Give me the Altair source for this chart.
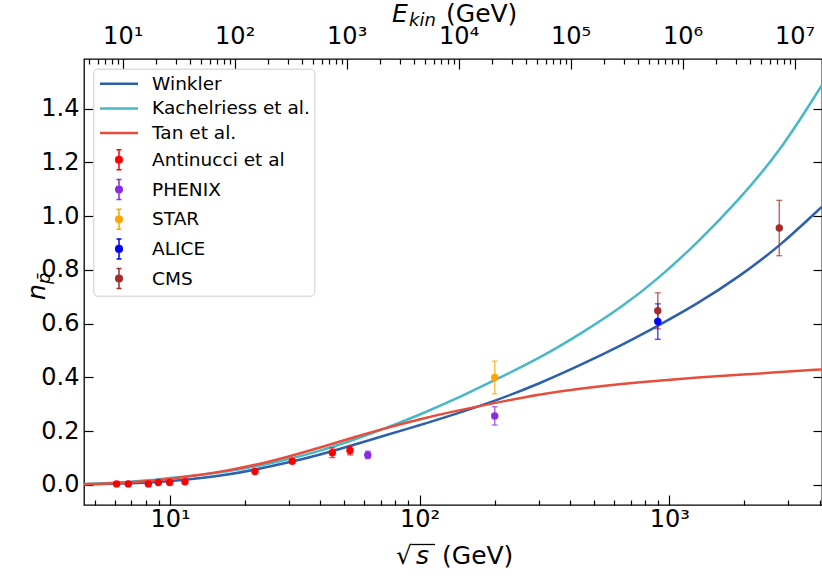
import altair as alt
import pandas as pd

# ---------------- data ----------------
series_names = ["Winkler", "Kachelriess et al.", "Tan et al.",
                "Antinucci et al", "PHENIX", "STAR", "ALICE", "CMS"]
series_colors = ["#2d5fac", "#47b8c8", "#e84c3a",
                 "#ff0000", "#8a2be2", "#ffa500", "#0000ff", "#a52a2a"]

curve_sqrts = [4.52, 6, 8, 10, 13, 17, 22, 30, 40, 53, 70, 100, 140, 200,
               300, 450, 650, 900, 1300, 1900, 2800, 4095]
winkler_n = [0.002, 0.004, 0.008, 0.014, 0.024, 0.038, 0.057, 0.084, 0.113,
             0.146, 0.180, 0.222, 0.265, 0.312, 0.376, 0.450, 0.522, 0.592,
             0.675, 0.774, 0.892, 1.036]
kach_n = [0.004, 0.008, 0.016, 0.026, 0.036, 0.050, 0.068, 0.096, 0.127,
          0.164, 0.204, 0.261, 0.320, 0.390, 0.470, 0.567, 0.664, 0.766,
          0.902, 1.060, 1.245, 1.489]
tan_n = [0.003, 0.006, 0.013, 0.023, 0.036, 0.054, 0.074, 0.106, 0.139,
         0.174, 0.207, 0.245, 0.276, 0.305, 0.337, 0.360, 0.376, 0.388,
         0.400, 0.410, 0.420, 0.430]

antinucci_sqrts = [6.11, 6.81, 8.19, 8.98, 9.97, 11.48, 21.9, 30.9, 44.7, 52.6]
antinucci_n = [0.004, 0.004, 0.004, 0.009, 0.009, 0.012, 0.050, 0.088, 0.120, 0.128]
antinucci_err = [0.001, 0.001, 0.001, 0.002, 0.002, 0.003, 0.004, 0.006, 0.018, 0.016]

phenix_sqrts = [62.0, 200.0]
phenix_n = [0.112, 0.257]
phenix_err = [0.014, 0.034]

star_sqrts = [200.0]
star_n = [0.400]
star_err = [0.061]

alice_sqrts = [900.0]
alice_n = [0.608]
alice_err = [0.066]

cms_sqrts = [900.0, 2760.0]
cms_n = [0.648, 0.956]
cms_err = [0.067, 0.103]

y_ticks = [0.0, 0.2, 0.4, 0.6, 0.8, 1.0, 1.2, 1.4]
x_decades = [10, 100, 1000]
top_decades = [10, 100, 1000, 1e4, 1e5, 1e6, 1e7]

# ---------------- tables ----------------
curves = pd.concat([
    pd.DataFrame({"series": "Winkler", "sqrts": curve_sqrts, "n": winkler_n}),
    pd.DataFrame({"series": "Kachelriess et al.", "sqrts": curve_sqrts, "n": kach_n}),
    pd.DataFrame({"series": "Tan et al.", "sqrts": curve_sqrts, "n": tan_n}),
], ignore_index=True)


def pts(name, xs, ys, es):
    return pd.DataFrame({"series": name, "sqrts": xs, "n": ys,
                         "lo": [y - e for y, e in zip(ys, es)],
                         "hi": [y + e for y, e in zip(ys, es)]})


points = pd.concat([
    pts("Antinucci et al", antinucci_sqrts, antinucci_n, antinucci_err),
    pts("PHENIX", phenix_sqrts, phenix_n, phenix_err),
    pts("STAR", star_sqrts, star_n, star_err),
    pts("ALICE", alice_sqrts, alice_n, alice_err),
    pts("CMS", cms_sqrts, cms_n, cms_err),
], ignore_index=True)

legend_df = pd.DataFrame({"series": series_names})
anchor = pd.DataFrame({"v": [10.0], "w": [0.0]})

minor_x = [m * d for d in [1, 10, 100, 1000] for m in range(2, 10)]
minor_x = [v for v in minor_x if 4.5 < v < 4093]
minor_top = [m * d for d in [1, 10, 100, 1000, 1e4, 1e5, 1e6, 1e7] for m in range(2, 10)]
minor_top = [v for v in minor_top if 4.5 < v < 1.75e7]

# ---------------- styling ----------------
FONT = "DejaVu Sans"
W, H = 738, 446
XDOM = [4.524, 4093]
YDOM = [-0.0745, 1.585]
TOPDOM = [4.514, 1.755e7]

sup = ("'10' + ['\u2070','\u00b9','\u00b2','\u00b3','\u2074','\u2075','\u2076','\u2077','\u2078']"
       "[round(log(datum.value)/LN10)]")


def xscale():
    return alt.Scale(type="log", domain=XDOM, nice=False)


def yscale():
    return alt.Scale(domain=YDOM, nice=False, zero=False)


def tscale():
    return alt.Scale(type="log", domain=TOPDOM, nice=False)


cscale = alt.Scale(domain=series_names, range=series_colors)


def circ(r):
    return f"M{r},0A{r},{r},0,1,1,-{r},0A{r},{r},0,1,1,{r},0"


line_path = "M-1.9,-0.05L1.9,-0.05M-1.9,0.05L1.9,0.05"
eb_path = ("M0,-1L0,1M-0.25,-1L0.25,-1M-0.25,1L0.25,1"
           + circ(0.33) + circ(0.21) + circ(0.09))
shape_range = [line_path] * 3 + [eb_path] * 5

legend_def = alt.Legend(
    title=None, orient="none", legendX=9.3, legendY=9.7, direction="vertical",
    padding=4, symbolSize=400, symbolOffset=10.7, labelOffset=22.1,
    labelFont=FONT, labelFontSize=18.5, labelColor="black", labelLimit=400,
    rowPadding=3.7, strokeColor="#cccccc", fillColor="rgba(255,255,255,0.8)",
    cornerRadius=4, symbolOpacity=1, symbolStrokeWidth=1.5,
)

label_common = dict(labelFont=FONT, labelFontSize=24, labelColor="black",
                    grid=False, title=None, domain=False, ticks=False,
                    labelOverlap=False, labelFlush=False)

x_label_axis = alt.Axis(orient="bottom", values=x_decades, labelExpr=sup,
                        labelPadding=2, **label_common)
y_label_axis = alt.Axis(orient="left", values=y_ticks, format=".1f",
                        labelPadding=5, **label_common)
top_label_axis = alt.Axis(orient="top", values=top_decades, labelExpr=sup,
                          labelPadding=11, **label_common)


def tick_axis(orient, values, size):
    return alt.Axis(orient=orient, values=values, offset=-size, tickSize=size,
                    labels=False, domain=False, ticks=True, tickColor="black",
                    tickWidth=1.2, grid=False, title=None)


# ---------------- data layers ----------------
enc_x = alt.X("sqrts:Q", scale=xscale(), axis=x_label_axis)
enc_y = alt.Y("n:Q", scale=yscale(), axis=y_label_axis)
enc_c = alt.Color("series:N", scale=cscale, legend=None)

legend_layer = alt.Chart(legend_df).mark_point(opacity=0, filled=False).encode(
    color=alt.Color("series:N", scale=cscale, legend=legend_def),
    shape=alt.Shape("series:N", scale=alt.Scale(domain=series_names, range=shape_range),
                    legend=legend_def),
)

lines = alt.Chart(curves).mark_line(strokeWidth=2.5, interpolate="basis", clip=True).encode(
    x=enc_x, y=enc_y, color=enc_c)

bars = alt.Chart(points).mark_rule(strokeWidth=1.5, opacity=0.7).encode(
    x="sqrts:Q", y="lo:Q", y2="hi:Q", color=enc_c)
caps_lo = alt.Chart(points).mark_tick(orient="horizontal", size=6, thickness=1.3, opacity=0.7).encode(
    x="sqrts:Q", y="lo:Q", color=enc_c)
caps_hi = alt.Chart(points).mark_tick(orient="horizontal", size=6, thickness=1.3, opacity=0.7).encode(
    x="sqrts:Q", y="hi:Q", color=enc_c)
dots = alt.Chart(points).mark_circle(size=55, opacity=1).encode(
    x="sqrts:Q", y="n:Q", color=enc_c)

data_layer = alt.layer(legend_layer, lines, bars, caps_lo, caps_hi, dots)

# ---------------- axis (tick) layers ----------------
inv = dict(opacity=0)
ax_b_major = alt.Chart(anchor).mark_point(**inv).encode(
    x=alt.X("v:Q", scale=xscale(), axis=tick_axis("bottom", x_decades, 10)),
    y=alt.Y("w:Q", scale=yscale(), axis=tick_axis("left", y_ticks, 9)))
ax_b_minor = alt.Chart(anchor).mark_point(**inv).encode(
    x=alt.X("v:Q", scale=xscale(), axis=tick_axis("bottom", minor_x, 5)),
    y=alt.Y("w:Q", scale=yscale(), axis=tick_axis("right", y_ticks, 9)))
ax_t_label = alt.Chart(anchor).mark_point(**inv).encode(
    x=alt.X("v:Q", scale=tscale(), axis=top_label_axis))
ax_t_major = alt.Chart(anchor).mark_point(**inv).encode(
    x=alt.X("v:Q", scale=tscale(), axis=tick_axis("top", top_decades, 10)))
ax_t_minor = alt.Chart(anchor).mark_point(**inv).encode(
    x=alt.X("v:Q", scale=tscale(), axis=tick_axis("top", minor_top, 5)))

# ---------------- titles ----------------
one = pd.DataFrame({"k": [0]})


def txt(s, x, y, size, italic=False, angle=0):
    return alt.Chart(one).mark_text(
        text=s, font=FONT, fontSize=size, fontStyle="italic" if italic else "normal",
        align="left", baseline="alphabetic", color="black", angle=angle
    ).encode(x=alt.value(x), y=alt.value(y))


titles = alt.layer(
    txt("E", 308, -37.5, 25, True),
    txt("kin", 325, -33.5, 18, True),
    txt("(GeV)", 362, -37.5, 25),
    txt("\u221a", 312, 505, 25),
    txt("s", 332, 505, 25, True),
    txt("(GeV)", 358, 505, 25),
    alt.Chart(one).mark_rule(color="black", strokeWidth=1.3).encode(
        x=alt.value(328), x2=alt.value(351), y=alt.value(485.5)),
    txt("n", -39, 241, 25, True, 270),
    txt("p\u0304", -34, 225, 18, True, 270),
)

chart = alt.layer(
    data_layer, ax_b_major, ax_b_minor, ax_t_label, ax_t_major, ax_t_minor, titles
).resolve_scale(x="independent", y="independent").properties(
    width=W, height=H,
    padding={"left": 84, "top": 59, "right": 0, "bottom": 73},
    autosize=alt.AutoSizeParams(type="none"),
).configure(font=FONT).configure_view(stroke="black", strokeWidth=1.3)

chart.save("out.html", embed_options={"renderer": "svg", "actions": False})
